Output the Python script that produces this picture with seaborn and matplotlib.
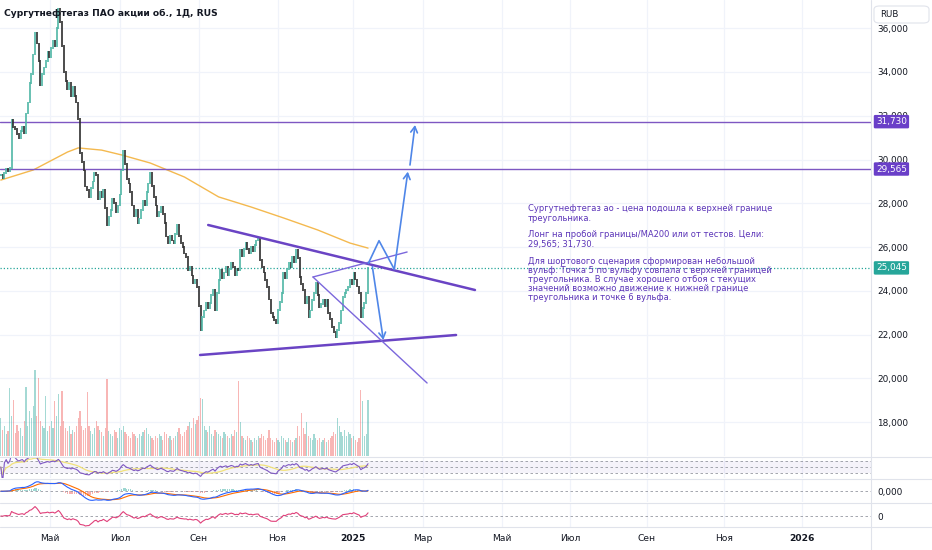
import numpy as np
import pandas as pd
import matplotlib
matplotlib.use("Agg")
import matplotlib.pyplot as plt
import seaborn as sns
from matplotlib.lines import Line2D
from matplotlib.patches import FancyBboxPatch

sns.set_theme(style="white")
plt.rcParams['font.family'] = ['DejaVu Sans']

# ---------------- data (RUB, daily bars) ----------------
closes = [
    29.30, 29.15, 29.40, 29.55, 29.45, 29.60,
    31.80, 31.50, 31.40, 31.15, 31.00,
    31.30, 31.50, 31.20, 32.10, 32.60,
    33.50, 33.90, 34.80, 35.80, 35.30,
    34.50, 33.40, 33.90, 34.20, 34.50,
    34.90, 34.70, 35.10, 35.40, 35.20,
    36.00, 36.90, 36.30, 35.20, 34.00,
    33.60, 33.20, 33.50, 32.90, 33.30,
    32.90, 32.60, 31.85, 30.30, 29.90,
    29.50, 28.77, 28.60, 28.30, 28.70,
    29.00, 29.40, 29.30, 28.17, 28.50,
    28.30, 28.60, 27.80, 27.00, 27.40,
    27.70, 28.20, 28.00, 27.60, 27.90,
    28.40, 29.50, 30.40, 29.80, 29.10,
    28.90, 28.50, 27.90, 27.40, 27.70,
    27.10, 27.30, 27.70, 28.10, 27.90,
    28.50, 28.90, 29.40, 28.80, 28.30,
    27.90, 27.40, 27.60, 27.85, 27.50,
    27.10, 26.48, 26.20, 26.50, 26.30,
    26.20, 26.60, 27.00, 26.50, 26.20,
    26.00, 25.70, 25.56, 24.96, 25.10,
    24.70, 24.37, 24.50, 24.18, 23.30,
    22.20, 22.80, 23.10, 23.45, 23.20,
    23.45, 23.80, 24.05, 23.13, 23.90,
    24.50, 24.96, 24.60, 24.83, 25.10,
    24.70, 25.00, 25.28, 25.10, 24.70,
    25.00, 24.96, 25.88, 25.60, 25.90,
    26.20, 25.90, 25.70, 26.00, 25.80,
    26.10, 26.30, 26.40, 25.42, 25.10,
    24.83, 24.50, 24.18, 23.60, 22.99,
    22.80, 22.67, 22.50, 23.13, 23.50,
    23.91, 24.83, 24.60, 25.00, 25.28,
    25.10, 25.56, 25.30, 25.88, 25.50,
    24.64, 24.30, 24.05, 23.45, 23.70,
    22.80, 23.10, 23.59, 23.90, 24.37,
    23.80, 23.27, 23.40, 23.59, 23.30,
    23.60, 22.99, 22.70, 22.35, 22.10,
    21.89, 22.20, 22.53, 23.10, 23.73,
    23.90, 24.05, 24.18, 24.50, 24.30,
    24.83, 24.51, 24.20, 23.91, 22.80,
    23.20, 23.45, 23.91, 25.045,
]
volumes = [
    38, 26, 30, 22, 25, 68,
    40, 56, 23, 31, 25,
    28, 20, 35, 69, 30,
    45, 38, 50, 86, 40,
    78, 35, 30, 28, 60,
    25, 30, 35, 28, 55,
    40, 62, 30, 65, 35,
    28, 25, 30, 22, 26,
    24, 30, 38, 45, 30,
    26, 28, 64, 30, 25,
    22, 28, 35, 30, 26,
    24, 20, 28, 77, 25,
    22, 20, 26, 24, 18,
    28, 26, 30, 24, 22,
    20, 18, 24, 22, 20,
    18, 22, 20, 24, 26,
    28, 22, 20, 18, 16,
    20, 18, 22, 20, 16,
    24, 22, 18, 20, 16,
    18, 20, 24, 28, 22,
    20, 24, 26, 30, 34,
    28, 38, 32, 36, 40,
    58, 57, 30, 26, 24,
    30, 22, 20, 26, 24,
    22, 20, 18, 24, 22,
    20, 18, 22, 20, 26,
    24, 75, 34, 20, 18,
    16, 20, 18, 16, 14,
    18, 16, 20, 18, 22,
    20, 16, 18, 26, 18,
    16, 14, 18, 16, 14,
    20, 18, 16, 14, 18,
    16, 14, 16, 18, 30,
    20, 43, 28, 22, 34,
    20, 18, 16, 22, 18,
    16, 18, 14, 16, 18,
    14, 16, 18, 20, 24,
    22, 38, 30, 24, 20,
    26, 20, 24, 22, 18,
    20, 16, 14, 18, 66,
    55, 20, 22, 56,
]
ma200_bars = [0, 18, 37, 43, 56, 67, 83, 102, 121, 139, 157, 176, 194, 204]
ma200_vals = [29.06, 29.52, 30.34, 30.53, 30.43, 30.21, 29.84, 29.20,
              28.29, 27.83, 27.33, 26.78, 26.18, 25.95]
target_levels = [31.730, 29.565]
target_labels = ["31,730", "29,565"]
last_price = 25.045
last_label = "25,045"
price_ticks = [18, 20, 22, 24, 26, 28, 30, 32, 34, 36]
month_labels = ["Май", "Июл", "Сен", "Ноя", "2025", "Мар", "Май", "Июл", "Сен", "Ноя", "2026"]

# drawings of the idea (bar index, price)
tri_upper = [(115.2, 27.006), (263.4, 24.035)]
tri_lower = [(110.7, 21.064), (252.9, 21.978)]
wolfe_13 = [(173.4, 24.629), (225.7, 25.772)]
wolfe_24 = [(173.4, 24.629), (236.8, 19.784)]
zigzag = [(204.2, 25.256), (210.1, 26.289), (218.6, 24.981)]
arrows = [((218.6, 24.981), (226.1, 29.443)),
          ((227.3, 29.749), (230.1, 31.577)),
          ((206.4, 25.10), (212.5, 21.75))]

note_lines = [
    "Сургутнефтегаз ао - цена подошла к верхней границе",
    "треугольника.",
    "Лонг на пробой границы/MA200 или от тестов. Цели:",
    "29,565; 31,730.",
    "Для шортового сценария сформирован небольшой",
    "вульф. Точка 5 по вульфу совпала с верхней границей",
    "треугольника. В случае хорошего отбоя с текущих",
    "значений возможно движение к нижней границе",
    "треугольника и точке 6 вульфа.",
]
title = "Сургутнефтегаз ПАО акции об., 1Д, RUS"

# ---------------- frame ----------------
df = pd.DataFrame({"bar": np.arange(len(closes)), "close": closes, "volume": volumes})
df["open"] = df["close"].shift(1).fillna(df["close"])
df["up"] = df["close"] >= df["open"]

# indicators computed from closes
delta = df["close"].diff().fillna(0)
gain = delta.clip(lower=0).ewm(alpha=1 / 14, adjust=False).mean()
loss = (-delta.clip(upper=0)).ewm(alpha=1 / 14, adjust=False).mean()
df["rsi"] = (100 - 100 / (1 + gain / loss.replace(0, np.nan))).fillna(50)
df["rsi_ma"] = df["rsi"].rolling(14, min_periods=1).mean()
ema12 = df["close"].ewm(span=12, adjust=False).mean()
ema26 = df["close"].ewm(span=26, adjust=False).mean()
df["macd"] = ema12 - ema26
df["signal"] = df["macd"].ewm(span=9, adjust=False).mean()
df["hist"] = df["macd"] - df["signal"]
df["osc"] = df["close"] - df["close"].rolling(20, min_periods=1).mean()

W, H = 932, 550
fig = plt.figure(figsize=(W / 100, H / 100), dpi=100)
fig.patch.set_facecolor("white")


def fax(x0, y0, x1, y1):
    return fig.add_axes([x0 / W, 1 - y1 / H, (x1 - x0) / W, (y1 - y0) / H])


AXR = 871
ax = fax(0, 0, AXR, 456)
ax_r = fax(0, 457, AXR, 478)
ax_m = fax(0, 479, AXR, 502)
ax_c = fax(0, 503, AXR, 527)

XL = (-0.45, 483.4)
tick_px = [50, 120, 199, 277.5, 353, 423, 502, 570, 647, 724, 801.5]
tick_bars = [(p - 0.8) / 1.8 for p in tick_px]
GRID = "#f0f3fa"
TXT = "#131722"
UP, DOWN = "#4fb6a5", "#2e2e2e"

for a in (ax, ax_r, ax_m, ax_c):
    a.set_xlim(*XL)
    for s in a.spines.values():
        s.set_visible(False)
    a.set_facecolor("none")
    a.set_xticks(tick_bars)
    a.tick_params(axis="both", length=0)
    a.grid(False)
    for tb in tick_bars:
        a.axvline(tb, color=GRID, lw=0.9, zorder=0)
    if a is not ax_c:
        a.set_xticklabels([])

# ---------------- price pane ----------------
ax.set_ylim(16.447, 37.291)
for v in price_ticks:
    ax.axhline(v, color=GRID, lw=0.9, zorder=0)

lo = np.minimum(df["open"], df["close"])
hi = np.maximum(df["open"], df["close"])
cols = np.where(df["up"], UP, DOWN)
ax.vlines(df["bar"], lo - 0.04, hi + 0.04, colors=cols, lw=1.2, zorder=3)

sns.lineplot(x=ma200_bars, y=ma200_vals, ax=ax, color="#f4b94f", lw=1.0, zorder=2)
ax.set_xlabel("")
ax.set_ylabel("")

for lvl in target_levels:
    ax.axhline(lvl, color="#7e57c2", lw=1.0, zorder=2)
ax.axhline(last_price, color="#26a69a", lw=0.9, ls=(0, (1, 1.6)), zorder=2)

TRI = "#6a44c4"
THIN = "#7b67dc"
BLUE = "#4f86e8"
for seg, c, lw in ((tri_upper, TRI, 1.8), (tri_lower, TRI, 1.8), (wolfe_13, THIN, 1.0), (wolfe_24, THIN, 1.0)):
    xs, ys = zip(*seg)
    ax.plot(xs, ys, color=c, lw=lw, zorder=4, solid_capstyle="round")
xs, ys = zip(*zigzag)
ax.plot(xs, ys, color=BLUE, lw=1.2, zorder=5)
for (x0, y0), (x1, y1) in arrows:
    ax.annotate("", xy=(x1, y1), xytext=(x0, y0),
                arrowprops=dict(arrowstyle="->,head_length=0.35,head_width=0.2", color=BLUE, lw=1.2,
                                shrinkA=0, shrinkB=0), zorder=5)

# volume overlay
ax_v = ax.twinx()
ax_v.set_xlim(*XL)
ax_v.bar(df["bar"], df["volume"], width=0.62,
         color=np.where(df["up"], "#26a69a", "#ef5350"), alpha=0.42, lw=0)
ax_v.set_ylim(0, max(volumes) * 456 / 86)
ax_v.set_yticks([])
ax_v.tick_params(length=0)
for s in ax_v.spines.values():
    s.set_visible(False)

# price scale on the right (after twinx, which moves ticks left)
ax.yaxis.tick_right()
ax.set_yticks(price_ticks)
ax.set_yticklabels([f"{v:.3f}".replace(".", ",") for v in price_ticks], fontsize=6.4, color=TXT)
ax.tick_params(axis="y", pad=4.5, length=0)

# price labels on the scale
ytrans = matplotlib.transforms.blended_transform_factory(ax.transAxes, ax.transData)
for lvl, lab in zip(target_levels, target_labels):
    ax_v.text(1.0 + 5 / AXR, lvl, lab, transform=ytrans, ha="left", va="center", fontsize=6.4,
              color="white", clip_on=False, zorder=20,
              bbox=dict(boxstyle="round,pad=0.25,rounding_size=0.15", fc="#6a3fc8", ec="none"))
ax_v.text(1.0 + 5 / AXR, last_price, last_label, transform=ytrans, ha="left", va="center", fontsize=6.4,
          color="white", clip_on=False, zorder=20,
          bbox=dict(boxstyle="round,pad=0.25,rounding_size=0.15", fc="#26a69a", ec="none"))

# ---------------- RSI pane ----------------
ax_r.set_ylim(13.3, 83.3)
ax_r.axhspan(30, 70, color="#7e57c2", alpha=0.07, lw=0)
for lv in (70, 50, 30):
    ax_r.axhline(lv, color="#9598a1", lw=0.6, ls=(0, (3, 3)))
sns.lineplot(x=df["bar"], y=df["rsi_ma"], ax=ax_r, color="#f2e27a", lw=0.9)
sns.lineplot(x=df["bar"], y=df["rsi"], ax=ax_r, color="#7e57c2", lw=0.8)
ax_r.set_yticks([])
ax_r.set_xlabel("")
ax_r.set_ylabel("")

# ---------------- MACD pane ----------------
M = df["macd"].abs().max()
ax_m.set_ylim(-M * 1.15, M * 1.3)
ax_m.axhline(0, color="#9598a1", lw=0.6, ls=(0, (3, 3)))
ax_m.bar(df["bar"], df["hist"], width=0.6, color=np.where(df["hist"] >= 0, "#26a69a", "#ef5350"), alpha=0.45, lw=0)
sns.lineplot(x=df["bar"], y=df["signal"], ax=ax_m, color="#ff6d00", lw=0.8)
sns.lineplot(x=df["bar"], y=df["macd"], ax=ax_m, color="#2962ff", lw=0.8)
ax_m.yaxis.tick_right()
ax_m.set_yticks([0])
ax_m.set_yticklabels(["0,000"], fontsize=6.4, color=TXT)
ax_m.tick_params(axis="y", pad=4.5)
ax_m.set_xlabel("")
ax_m.set_ylabel("")

# ---------------- oscillator pane ----------------
C = df["osc"].abs().max()
ax_c.set_ylim(-C * 1.1, C * 1.3)
ax_c.axhline(0, color="#9598a1", lw=0.6, ls=(0, (3, 3)))
sns.lineplot(x=df["bar"], y=df["osc"], ax=ax_c, color="#e0407a", lw=0.8)
ax_c.yaxis.tick_right()
ax_c.set_yticks([0])
ax_c.set_yticklabels(["0"], fontsize=6.4, color=TXT)
ax_c.tick_params(axis="y", pad=4.5)
ax_c.tick_params(axis="x", pad=5)
ax_c.set_xticklabels(month_labels, fontsize=6.6, color=TXT)
for t in ax_c.get_xticklabels():
    if t.get_text() in ("2025", "2026"):
        t.set_fontweight("bold")
ax_c.set_xlabel("")
ax_c.set_ylabel("")

# ---------------- separators, title, notes ----------------
SEP = "#e0e3eb"
for yy in (456.5, 478.5, 502.5, 527):
    fig.add_artist(Line2D([0, 1], [1 - yy / H, 1 - yy / H], transform=fig.transFigure, color=SEP, lw=0.8))
fig.add_artist(Line2D([AXR / W, AXR / W], [0, 1], transform=fig.transFigure, color=SEP, lw=0.8))

fig.text(4 / W, 1 - 13 / H, title, fontsize=6.6, fontweight="bold", color=TXT, va="center", ha="left")

fig.add_artist(FancyBboxPatch((874 / W, 1 - 23 / H), 55 / W, 17 / H,
                              boxstyle="round,pad=0,rounding_size=0.006", transform=fig.transFigure,
                              fc="white", ec="#e0e3eb", lw=0.8, zorder=30))
fig.text(880 / W, 1 - 14.5 / H, "RUB", fontsize=6.2, color=TXT, va="center", ha="left", zorder=31)

note_y = [208.3, 218.3, 234.3, 244.3, 261.7, 270.5, 279.3, 288.3, 297.3]
for ln, yy in zip(note_lines, note_y):
    fig.text(528 / W, 1 - yy / H, ln, fontsize=6.0, color="#5b34b8", va="center", ha="left")

fig.savefig("out.png", dpi=100, facecolor="white")
